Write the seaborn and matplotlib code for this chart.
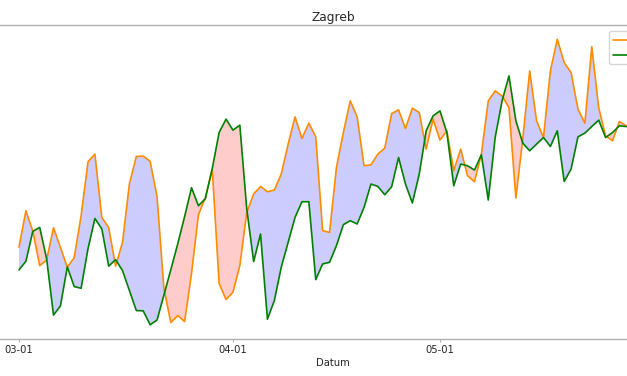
import numpy as np
import pandas as pd
import matplotlib
matplotlib.use("Agg")
import matplotlib.pyplot as plt
import matplotlib.dates as mdates
import seaborn as sns

title = "Zagreb"
x_label = "Datum"
label_orange = "2024."
label_green = "Prosjek"
start_date = "2024-03-01"

orange_vals = [10.35, 14.0, 11.95, 8.5, 9.05, 12.3, 10.33, 8.33, 9.3, 13.5,
               18.9, 19.67, 13.33, 12.3, 8.45, 10.83, 16.7, 19.43, 19.47, 18.95,
               15.45, 6.2, 2.8, 3.5, 2.9, 7.7, 13.6, 15.3, 18.15, 6.7,
               5.1, 5.83, 8.5, 13.8, 15.67, 16.43, 15.9, 16.07, 17.67, 20.67,
               23.4, 21.23, 22.77, 21.4, 12.0, 11.83, 18.33, 21.83, 25.0, 23.4,
               18.5, 18.6, 19.67, 20.27, 23.73, 24.1, 22.23, 24.27, 23.83, 20.17,
               23.17, 21.07, 22.0, 18.0, 20.17, 17.5, 16.9, 19.67, 25.0, 26.0,
               25.5, 24.33, 15.27, 21.2, 28.0, 23.0, 21.33, 28.0, 31.17, 28.83,
               27.83, 24.17, 22.77, 30.43, 24.33, 21.5, 21.0, 22.93, 22.5, 22.3,
               22.6, 22.2]

green_vals = [8.07, 8.93, 11.93, 12.33, 9.2, 3.55, 4.45, 8.37, 6.4, 6.23,
              10.2, 13.22, 12.18, 8.45, 9.1, 8.0, 6.0, 4.0, 3.97, 2.58,
              3.04, 5.55, 8.1, 10.67, 13.42, 16.3, 14.5, 15.2, 18.2, 21.83,
              23.17, 22.07, 22.57, 14.2, 8.9, 11.67, 3.13, 5.0, 8.33, 10.83,
              13.33, 14.9, 14.9, 7.1, 8.67, 8.83, 10.5, 12.6, 13.0, 12.67,
              14.33, 16.67, 16.43, 15.6, 16.4, 19.33, 16.67, 14.77, 17.67, 22.0,
              23.5, 24.0, 21.83, 16.5, 18.67, 18.5, 18.07, 19.6, 15.07, 21.33,
              25.0, 27.5, 23.0, 20.77, 20.0, 20.67, 21.33, 20.43, 22.0, 16.93,
              18.17, 21.4, 21.77, 22.43, 23.07, 21.33, 21.83, 22.5, 22.43, 22.4,
              22.5, 22.4]

dates = pd.date_range(start_date, periods=len(orange_vals), freq="D")
df = pd.DataFrame({"Datum": dates, "orange": orange_vals, "green": green_vals})

sns.set_style("whitegrid")
plt.rcParams["font.family"] = ["DejaVu Sans"]

W, H = 627, 376
fig = plt.figure(figsize=(W / 100, H / 100), dpi=100)
ax_left_px, ax_right_px = -12.4, 678.4
ax_top_px, ax_bot_px = 25, 339
ax = fig.add_axes([ax_left_px / W, (H - ax_bot_px) / H,
                   (ax_right_px - ax_left_px) / W, (ax_bot_px - ax_top_px) / H])

sns.lineplot(data=df, x="Datum", y="orange", color="darkorange", linewidth=1.2,
             label=label_orange, ax=ax)
sns.lineplot(data=df, x="Datum", y="green", color="green", linewidth=1.2,
             label=label_green, ax=ax)

o = np.array(orange_vals)
g = np.array(green_vals)
ax.fill_between(df["Datum"], o, g, where=o >= g, interpolate=True,
                color="blue", alpha=0.2, linewidth=0)
ax.fill_between(df["Datum"], o, g, where=g > o, interpolate=True,
                color="red", alpha=0.2, linewidth=0)

ax.grid(False)
for s in ax.spines.values():
    s.set_color("#b0b0b0")
    s.set_linewidth(1.0)

ax.xaxis.set_major_locator(mdates.MonthLocator())
ax.xaxis.set_major_formatter(mdates.DateFormatter("%m-%d"))
ax.tick_params(axis="x", bottom=True, length=2.5, width=0.8, color="#b0b0b0",
               labelsize=7.2, pad=2, labelcolor="#262626")
ax.set_yticks([])
ax.set_ylabel("")
ax.set_xlabel(x_label, fontsize=7.2, labelpad=2, color="#262626")
ax.set_title(title, fontsize=8.8, pad=3, color="#262626")

ax.legend(loc="upper left", bbox_to_anchor=(609 / W, (H - 31) / H),
          bbox_transform=fig.transFigure, borderaxespad=0, fontsize=7.2,
          frameon=True)

fig.savefig("out.png", dpi=100)
